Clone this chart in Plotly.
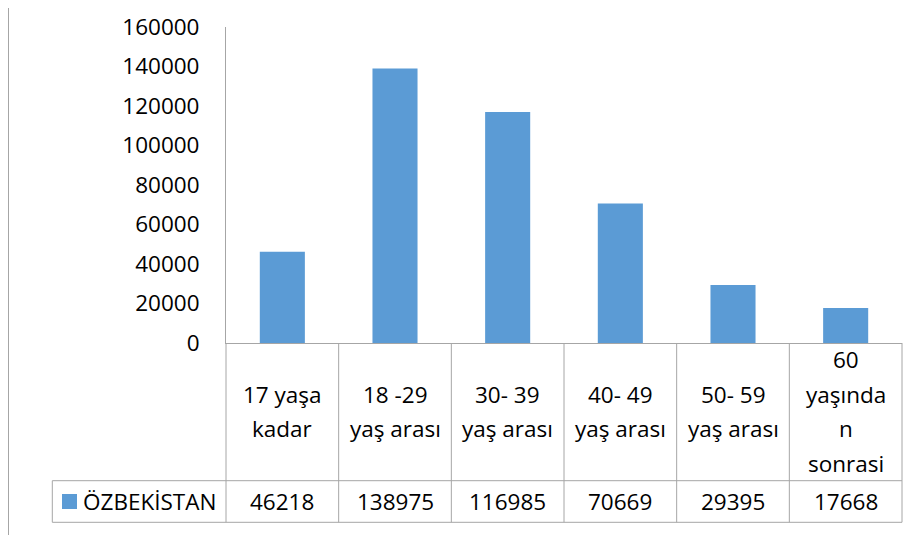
import plotly.graph_objects as go

categories = ["17 yaşa\nkadar", "18 -29\nyaş arası", "30- 39\nyaş arası",
              "40- 49\nyaş arası", "50- 59\nyaş arası", "60\nyaşında\nn\nsonrasi"]
values = [46218, 138975, 116985, 70669, 29395, 17668]
series_name = "ÖZBEKİSTAN"
tick_vals = [0, 20000, 40000, 60000, 80000, 100000, 120000, 140000, 160000]

BAR = "#5B9BD5"
GRID = "#A6A6A6"
FONT = "Open Sans"
FS = 22.5

OFF = 8  # page body margin
W, H = 918 - OFF, 535 - OFF
# target plot area in page pixels: x 226..902, y 27..342.5
ML = 226 - OFF
MT = 27 - OFF
MR = W - (902 - OFF)
MB = H - (343 - OFF)
PW, PH = W - ML - MR, H - MT - MB

def py(pix):  # page pixel y -> paper y
    return (H - MB - (pix - OFF)) / PH

def px(pix):  # page pixel x -> paper x
    return ((pix - OFF) - ML) / PW

n = len(categories)
xs = list(range(n))

fig = go.Figure(go.Bar(x=xs, y=values, marker_color=BAR, marker_line_width=0,
                       name=series_name, showlegend=False))

row_y = py(480.7)
bot_y = py(522.3)
leg_x = px(52.3)

shapes = []
for k in range(n + 1):
    shapes.append(dict(type="line", xref="paper", yref="paper", x0=k / n, x1=k / n,
                       y0=0, y1=bot_y, line=dict(color=GRID, width=1)))
for yy in (row_y, bot_y):
    shapes.append(dict(type="line", xref="paper", yref="paper", x0=leg_x, x1=1,
                       y0=yy, y1=yy, line=dict(color=GRID, width=1)))
shapes.append(dict(type="line", xref="paper", yref="paper", x0=leg_x, x1=leg_x,
                   y0=row_y, y1=bot_y, line=dict(color=GRID, width=1)))
# outer left border
shapes.append(dict(type="line", xref="paper", yref="paper", x0=px(8.5), x1=px(8.5),
                   y0=py(OFF), y1=py(535), line=dict(color=GRID, width=1)))
# legend key square
shapes.append(dict(type="rect", xref="paper", yref="paper", x0=px(62), x1=px(77),
                   y0=py(494), y1=py(509), fillcolor=BAR, line=dict(width=0)))

annotations = []
hdr_c = py((342.5 + 480.7) / 2)
val_c = py((480.7 + 522.3) / 2)
LS = 34.5
for i, lab in enumerate(categories):
    lines = lab.split("\n")
    m = len(lines)
    for k, t in enumerate(lines):
        annotations.append(dict(x=i, xref="x", y=hdr_c, yref="paper", text=t,
                                showarrow=False, xanchor="center", yanchor="middle",
                                yshift=-(k - (m - 1) / 2) * LS,
                                font=dict(family=FONT, size=FS, color="#000")))
    annotations.append(dict(x=i, xref="x", y=val_c, yref="paper", text=str(values[i]),
                            showarrow=False, xanchor="center", yanchor="middle",
                            font=dict(family=FONT, size=FS, color="#000")))
annotations.append(dict(x=px(81), xref="paper", y=val_c, yref="paper", text=series_name,
                        showarrow=False, xanchor="left", yanchor="middle",
                        font=dict(family=FONT, size=FS, color="#000")))

fig.update_layout(
    width=W, height=H,
    margin=dict(l=ML, r=MR, t=MT, b=MB, autoexpand=False),
    paper_bgcolor="white", plot_bgcolor="white",
    bargap=0.6,
    font=dict(family=FONT, size=FS, color="#000"),
    xaxis=dict(range=[-0.5, n - 0.5], showticklabels=False, showgrid=False, automargin=False,
               zeroline=False, showline=True, linecolor=GRID, linewidth=1, ticks=""),
    yaxis=dict(range=[0, 160000], tickvals=tick_vals, ticktext=[str(v) for v in tick_vals],
               showgrid=False, zeroline=False, showline=True, linecolor=GRID, linewidth=1,
               automargin=False,
               ticks="", ticklabelstandoff=21, tickfont=dict(family=FONT, size=FS, color="#000")),
    shapes=shapes,
    annotations=annotations,
)

fig.write_html("out.html")
